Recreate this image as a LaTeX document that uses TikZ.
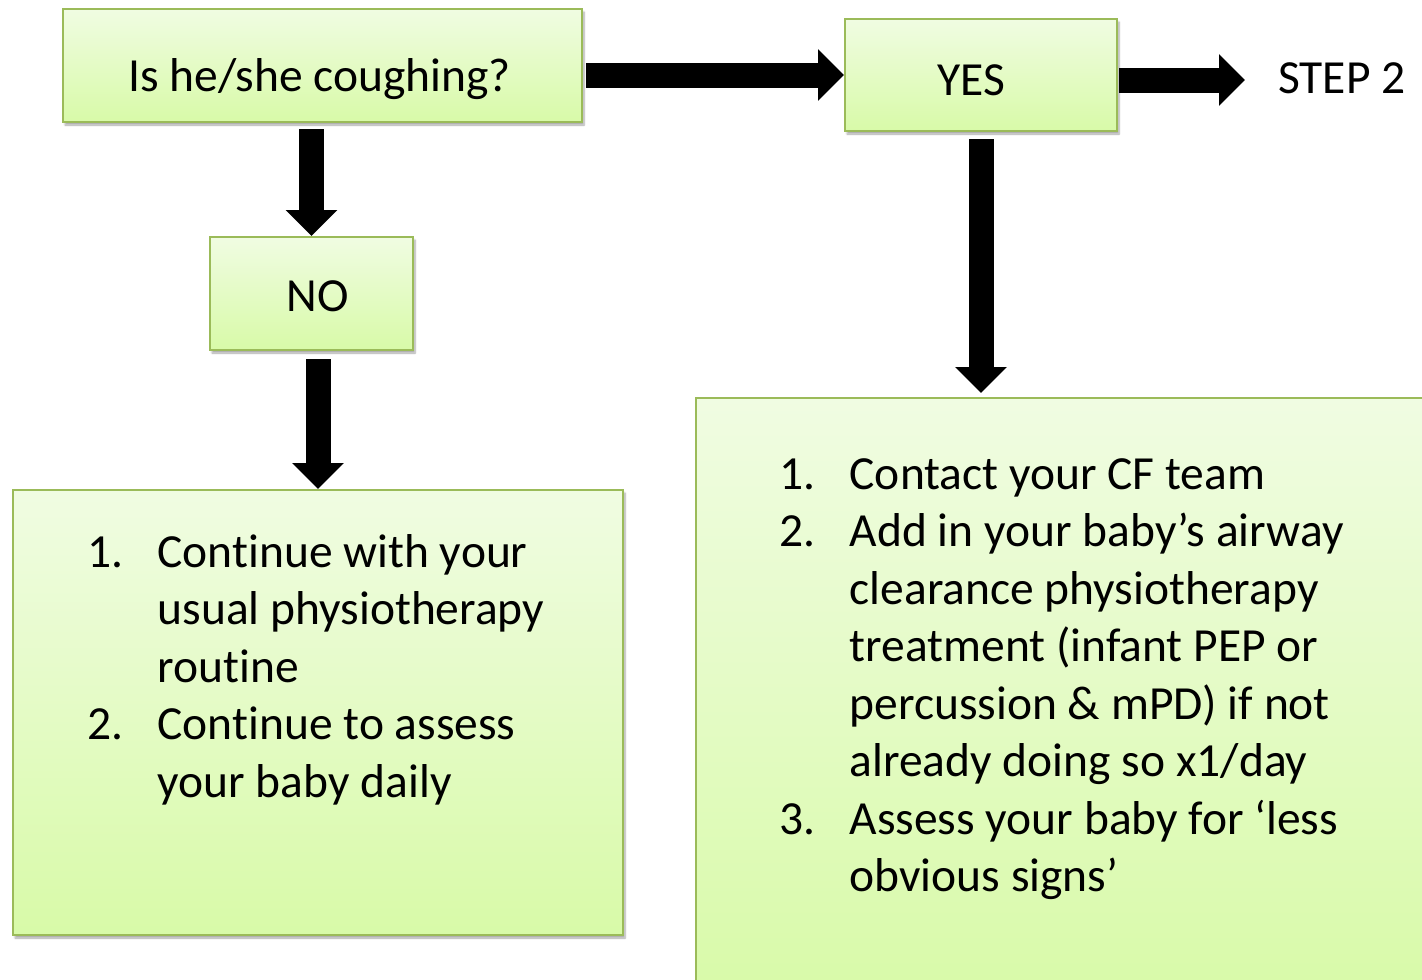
\documentclass[tikz,border=0pt]{standalone}
\usepackage{fontspec}
\setmainfont{Carlito}[Ligatures=NoCommon]
\usetikzlibrary{arrows.meta,shadows.blur}
\definecolor{boxtop}{HTML}{F0FCE2}
\definecolor{boxbot}{HTML}{D8FAA8}
\definecolor{boxline}{HTML}{9BBB59}
\tikzset{
  greenbox/.style={rectangle, draw=boxline, line width=2pt, top color=boxtop, bottom color=boxbot, inner sep=0pt,
    blur shadow={shadow xshift=2pt, shadow yshift=-3pt, shadow blur steps=6, shadow opacity=35}},
  bigtext/.style={font=\fontsize{47.5}{57.5}\selectfont},
  blockarrow/.style={line width=25pt, draw=black, -{Triangle[width=50pt,length=26pt]}},
  listtext/.style={bigtext, align=left, inner sep=0pt, anchor=base west}
}
\newcommand{\itm}[1]{\makebox[70.5pt][l]{#1}}
\begin{document}
\begin{tikzpicture}[x=1pt,y=-1pt]
\clip (0,0) rectangle (1422,980);
% boxes
\node[greenbox, bigtext, minimum width=519pt, minimum height=113pt, text height=51pt, text depth=0pt] (q) at (322.5,65.5) {Is he/she coughing?\kern6pt\relax};
\node[greenbox, bigtext, minimum width=272pt, minimum height=112pt, text height=41pt, text depth=0pt] (yes) at (981,75) {YES\kern19pt\relax};
\node[greenbox, bigtext, minimum width=203pt, minimum height=113pt, text height=36pt, text depth=0pt] (no) at (311.5,293.5) {\kern12pt NO};
\node[greenbox, minimum width=610pt, minimum height=445pt] (left) at (318,712.5) {};
\node[greenbox, minimum width=744pt, minimum height=602pt] (right) at (1068,699) {};
\node[bigtext, anchor=base west, inner sep=0pt] (step) at (1278,93) {STEP 2};
% list texts (base anchor = last line)
\node[listtext] (ltext) at (87,797) {\itm{1.}Continue with your\\ \itm{}usual physiotherapy\\ \itm{}routine\\ \itm{2.}Continue to assess\\ \itm{}your baby daily};
\node[listtext] (rtext) at (779,891.5) {\itm{1.}Contact your CF team\\ \itm{2.}Add in your baby’s airway\\ \itm{}clearance physiotherapy\\ \itm{}treatment (infant PEP or\\ \itm{}percussion \& mPD) if not\\ \itm{}already doing so x1/day\\ \itm{3.}Assess your baby for ‘less\\ \itm{}obvious signs’};
% arrows
\draw[blockarrow] ([xshift=3pt]q.east |- 0,75) -- (yes.west |- 0,75);
\draw[blockarrow] ([xshift=1pt]yes.east |- 0,80) -- ([xshift=-33pt]step.west |- 0,80);
\draw[blockarrow] ([yshift=-6pt]q.south -| no.north) -- (no.north);
\draw[blockarrow] ([yshift=-8pt]no.south -| left.north) -- (left.north);
\draw[blockarrow] ([yshift=-7pt]yes.south) -- (yes.south |- 0,393);
\end{tikzpicture}
\end{document}
